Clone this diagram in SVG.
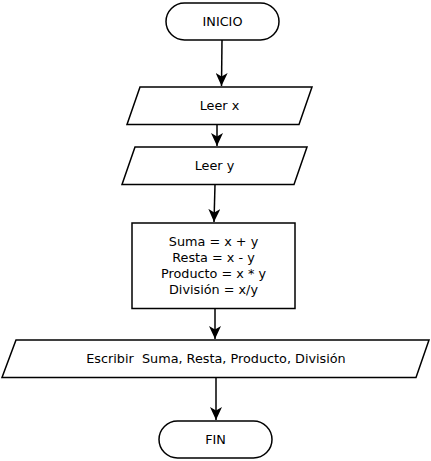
<svg xmlns="http://www.w3.org/2000/svg" width="431" height="461" viewBox="0 0 431 461">
<style>
.s{fill:#fff;stroke:#000;stroke-width:1.5}
.c{fill:none;stroke:#000;stroke-width:1.5}
text{font-family:"DejaVu Sans",sans-serif;font-size:12.8px;fill:#000;text-anchor:middle;dominant-baseline:central}
</style>
<defs>
<marker id="b" markerUnits="userSpaceOnUse" markerWidth="14" markerHeight="12" viewBox="0 0 14 12" refX="13" refY="6" orient="auto">
<path d="M0,0 L13,6 L0,12 L3.5,6 Z" fill="#000"/>
</marker>
</defs>
<g id="connectors">
<path class="c" d="M222,40 L221.5,86" marker-end="url(#b)"/>
<path class="c" d="M217,124.5 L217,146" marker-end="url(#b)"/>
<path class="c" d="M215,184.5 L214,222" marker-end="url(#b)"/>
<path class="c" d="M215,308.5 L215,339" marker-end="url(#b)"/>
<path class="c" d="M216,378 L216,420" marker-end="url(#b)"/>
</g>
<g id="inicio">
<rect class="s" x="166" y="3" width="113" height="37" rx="18.5"/>
<text x="222.5" y="21.5">INICIO</text>
</g>
<g id="leerx">
<path class="s" d="M140,87 L312,87 L299,124.5 L127,124.5 Z"/>
<text x="219.5" y="105.5">Leer x</text>
</g>
<g id="leery">
<path class="s" d="M135,147 L307,147 L294,184.5 L122,184.5 Z"/>
<text x="214.5" y="165.5">Leer y</text>
</g>
<g id="calc">
<rect class="s" x="132" y="223" width="163" height="85.5"/>
<text x="213.5" y="241.5">Suma = x + y</text>
<text x="213.5" y="257.5">Resta = x - y</text>
<text x="213.5" y="273.5">Producto = x * y</text>
<text x="213.5" y="289.5">División = x/y</text>
</g>
<g id="escribir">
<path class="s" d="M16,340 L429,340 L416,377.5 L2,377.5 Z"/>
<text x="216" y="358.5" xml:space="preserve">Escribir  Suma, Resta, Producto, División</text>
</g>
<g id="fin">
<rect class="s" x="159" y="421" width="113" height="37" rx="18.5"/>
<text x="215.5" y="439.5">FIN</text>
</g>
</svg>
